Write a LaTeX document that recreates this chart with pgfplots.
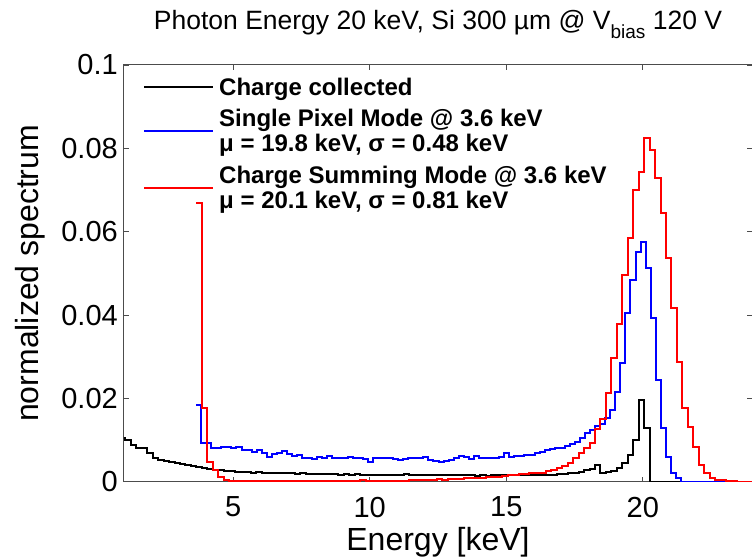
\documentclass[border=0pt]{standalone}
\usepackage{fontspec}
\setmainfont{Liberation Sans}
\usepackage{pgfplots}
\pgfplotsset{compat=1.18}
\begin{document}
\begin{tikzpicture}
\begin{axis}[
  at={(0pt,0pt)}, anchor=south west,
  scale only axis, width=628pt, height=416.7pt,
  xmin=1, xmax=24, ymin=0, ymax=0.1,
  xtick={5,10,15,20}, ytick={0,0.02,0.04,0.06,0.08,0.1},
  xticklabels={5,10,15,20},
  yticklabels={0,0.02,0.04,0.06,0.08,0.1},
  /pgf/number format/assume math mode=true,
  tick label style={font=\fontsize{29}{33}\selectfont, inner sep=0pt},
  xticklabel style={yshift=-15pt},
  yticklabel style={xshift=-6pt},
  major tick length=5pt,
  tick align=inside,
  axis line style={black!70, line width=1pt},
  every tick/.style={black!70, line width=0.8pt},
  xlabel={Energy [keV]}, ylabel={normalized spectrum},
  label style={font=\fontsize{32}{36}\selectfont},
  xlabel style={at={(axis description cs:0.5,-0.1464)}, anchor=center},
  ylabel style={at={(axis description cs:-0.150,0.5)}, anchor=center},
  every axis title shift=0pt,
  title={Photon Energy 20 keV, Si 300 µm @ V\raisebox{-9pt}{\fontsize{19}{21}\selectfont bias} 120 V},
  title style={font=\fontsize{26.5}{30}\selectfont, at={(axis description cs:0.5,1.084)}, anchor=base},
  legend style={at={(axis description cs:0.0303,0.975)}, anchor=north west, draw=none, fill=none,
    font=\bfseries\fontsize{24}{25}\selectfont, cells={align=left}, inner sep=0pt,
    nodes={inner sep=2pt}, row sep=9pt},
  legend cell align=left,
  legend image code/.code={\draw[#1] (0pt,0pt) -- (69pt,0pt); \path (72pt,0pt);},
]
\addplot[const plot, black, line width=2pt] coordinates {
(0.85,0.0104) (1.05,0.0100) (1.25,0.0088) (1.45,0.0080) (1.65,0.0082) (1.85,0.0070)
(2.05,0.0058) (2.25,0.0053) (2.45,0.0050) (2.65,0.0047) (2.85,0.0044) (3.05,0.0042)
(3.25,0.0040) (3.45,0.0037) (3.65,0.0035) (3.85,0.0032) (4.05,0.0030) (4.25,0.0029)
(4.45,0.0027) (4.65,0.0026) (4.85,0.0025) (5.05,0.0024) (5.25,0.0024) (5.45,0.0023)
(5.65,0.0022) (5.85,0.0023) (6.05,0.0021) (6.25,0.0022) (6.45,0.0020) (6.65,0.0021)
(6.85,0.0020) (7.05,0.0020) (7.25,0.0019) (7.45,0.0020) (7.65,0.0019) (7.85,0.0018)
(8.05,0.0019) (8.25,0.0018) (8.45,0.0018) (8.65,0.0019) (8.85,0.0017) (9.05,0.0018)
(9.25,0.0017) (9.45,0.0018) (9.65,0.0017) (9.85,0.0016) (10.05,0.0017) (10.25,0.0016)
(10.45,0.0017) (10.65,0.0016) (10.85,0.0016) (11.05,0.0017) (11.25,0.0019) (11.45,0.0016)
(11.65,0.0016) (11.85,0.0015) (12.05,0.0016) (12.25,0.0015) (12.45,0.0016) (12.65,0.0015)
(12.85,0.0016) (13.05,0.0016) (13.25,0.0015) (13.45,0.0016) (13.65,0.0015) (13.85,0.0014)
(14.05,0.0015) (14.25,0.0014) (14.45,0.0015) (14.65,0.0016) (14.85,0.0015) (15.05,0.0016)
(15.25,0.0015) (15.45,0.0016) (15.65,0.0016) (15.85,0.0017) (16.05,0.0016) (16.25,0.0017)
(16.45,0.0016) (16.65,0.0017) (16.85,0.0018) (17.05,0.0019) (17.25,0.0020) (17.45,0.0022)
(17.65,0.0024) (17.85,0.0027) (18.05,0.0031) (18.25,0.0040) (18.45,0.0022) (18.65,0.0024)
(18.85,0.0026) (19.05,0.0032) (19.25,0.0044) (19.45,0.0064) (19.65,0.0100) (19.85,0.0196)
(20.05,0.0128) (20.25,0) (24,0)
};
\addlegendentry{Charge collected}
\addplot[const plot, blue, line width=2pt] coordinates {
(3.640,0.0184) (3.825,0.0092) (4.010,0.0092) (4.195,0.0080) (4.380,0.0080) (4.565,0.0084)
(4.750,0.0084) (4.935,0.0080) (5.120,0.0084) (5.305,0.0076) (5.490,0.0076) (5.675,0.0072)
(5.860,0.0076) (6.045,0.0068) (6.230,0.0060) (6.415,0.0066) (6.600,0.0070) (6.785,0.0074)
(6.970,0.0066) (7.155,0.0062) (7.340,0.0064) (7.525,0.0058) (7.710,0.0056) (7.895,0.0055)
(8.080,0.0060) (8.265,0.0058) (8.450,0.0062) (8.635,0.0058) (8.820,0.0056) (9.005,0.0056)
(9.190,0.0060) (9.375,0.0058) (9.560,0.0058) (9.745,0.0054) (9.930,0.0048) (10.115,0.0056)
(10.300,0.0058) (10.485,0.0056) (10.670,0.0056) (10.855,0.0054) (11.040,0.0052) (11.225,0.0055)
(11.410,0.0056) (11.595,0.0056) (11.780,0.0058) (11.965,0.0060) (12.150,0.0052) (12.335,0.0050)
(12.520,0.0048) (12.705,0.0050) (12.890,0.0053) (13.075,0.0058) (13.260,0.0062) (13.445,0.0060)
(13.630,0.0055) (13.815,0.0062) (14.000,0.0058) (14.185,0.0056) (14.370,0.0056) (14.555,0.0058)
(14.740,0.0060) (14.925,0.0070) (15.110,0.0060) (15.295,0.0062) (15.480,0.0062) (15.665,0.0064)
(15.850,0.0065) (16.035,0.0068) (16.220,0.0072) (16.405,0.0076) (16.590,0.0078) (16.775,0.0080)
(16.960,0.0082) (17.145,0.0086) (17.330,0.0090) (17.515,0.0096) (17.700,0.0106) (17.885,0.0116)
(18.070,0.0124) (18.255,0.0134) (18.440,0.0138) (18.625,0.0152) (18.810,0.0172) (18.995,0.0216)
(19.180,0.0284) (19.365,0.0404) (19.550,0.0484) (19.735,0.0552) (19.920,0.0576) (20.105,0.0512)
(20.290,0.0392) (20.475,0.0244) (20.660,0.0128) (20.845,0.0060) (21.030,0.0020) (21.215,0.0008)
(21.400,0) (24,0)
};
\addlegendentry{Single Pixel Mode @ 3.6 keV\\μ = 19.8 keV, σ = 0.48 keV}
\addplot[const plot, red, line width=2pt] coordinates {
(3.65,0.0668) (3.85,0.0176) (4.05,0.0048) (4.25,0.0028) (4.45,0.0012) (4.65,0.0003)
(4.85,0.0001) (9.65,0.0004) (9.85,0.0002) (10.05,0.0001) (11.45,0.0004) (11.65,0.0003)
(11.85,0.0004) (12.05,0.0005) (12.25,0.0004) (12.45,0.0006) (12.65,0.0005) (12.85,0.0006)
(13.05,0.0007) (13.25,0.0006) (13.45,0.0008) (13.65,0.0008) (13.85,0.0010) (14.05,0.0009)
(14.25,0.0011) (14.45,0.0012) (14.65,0.0012) (14.85,0.0014) (15.05,0.0016) (15.25,0.0016)
(15.45,0.0018) (15.65,0.0019) (15.85,0.0020) (16.05,0.0021) (16.25,0.0022) (16.45,0.0025)
(16.65,0.0028) (16.85,0.0032) (17.05,0.0038) (17.25,0.0046) (17.45,0.0058) (17.65,0.0070)
(17.85,0.0080) (18.05,0.0092) (18.25,0.0126) (18.45,0.0150) (18.65,0.0214) (18.85,0.0296)
(19.05,0.0378) (19.25,0.0496) (19.45,0.0584) (19.65,0.0700) (19.85,0.0744) (20.05,0.0824)
(20.25,0.0796) (20.45,0.0728) (20.65,0.0644) (20.85,0.0536) (21.05,0.0416) (21.25,0.0288)
(21.45,0.0178) (21.65,0.0132) (21.85,0.0084) (22.05,0.0040) (22.25,0.0020) (22.45,0.0009)
(22.65,0.0005) (22.85,0.0003) (23.05,0.0002) (23.25,0.0001) (23.45,0) (24,0)
};
\addlegendentry{Charge Summing Mode @ 3.6 keV\\μ = 20.1 keV, σ = 0.81 keV}
\end{axis}
\pgfresetboundingbox
\path[use as bounding box] (-124pt,-75.3pt) rectangle (628pt,481.7pt);
\end{tikzpicture}
\end{document}
